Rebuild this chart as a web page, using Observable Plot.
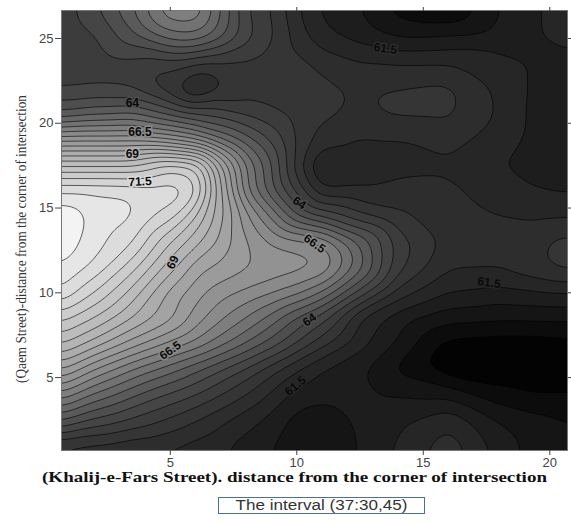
<!DOCTYPE html>
<html><head><meta charset="utf-8">
<script src="https://cdn.jsdelivr.net/npm/d3@7"></script>
<script src="https://cdn.jsdelivr.net/npm/@observablehq/plot@0.6"></script>
<style>
html,body{margin:0;padding:0;background:#fff}
#box{position:absolute;left:218px;top:497px;width:207px;height:17px;box-sizing:border-box;border:1px solid #4a6fa5;
font:14px "Liberation Sans",Arial,sans-serif;color:#333;text-align:center;line-height:15px;overflow:hidden;white-space:nowrap}
#box span{display:inline-block;transform:scaleX(1.22);transform-origin:center}
</style></head><body>
<div id="chart"></div>
<div id="box"><span>The interval (37:30,45)</span></div>
<script>
const xs=[0.7,2,3.5,5,6,7,8,9,10,11,12.5,14,16,18,19.25,20.7];
const ys=[26.65,25,23.5,22,20.5,19,17.5,16,14.5,13,11.5,10,8.5,7,5.5,4,2.5,0.7];
const z=[
[63.2,63.9,65.0,66.5,66.5,65.0,63.5,63.0,62.05,61.4,61.0,60.3,60.0,61.0,61.4,61.75],
[63.1,63.4,64.3,65.2,65.3,64.6,63.7,63.1,62.3,61.65,61.35,61.0,61.1,61.2,61.4,61.75],
[63.1,63.2,63.25,63.15,62.9,62.9,62.9,62.85,62.65,62.4,62.05,62.0,62.0,61.7,61.5,61.2],
[63.5,63.55,63.45,62.6,61.6,62.4,62.8,62.8,62.75,62.6,62.45,62.55,62.65,61.9,61.45,61.2],
[64.6,64.9,65.1,64.4,64.0,63.8,63.4,63.1,62.85,62.6,62.4,62.6,62.6,61.95,61.4,61.15],
[67.4,67.4,67.4,67.0,66.5,65.5,64.7,63.9,62.9,62.3,61.95,61.95,62.2,61.7,61.4,61.2],
[70,70,70,70.9,70.7,68.2,66,64.6,62.7,61.2,61.55,61.8,61.9,61.5,61.3,61.2],
[72.0,72.0,71.95,71.9,71.4,68.6,66,64.6,63.4,62,62.1,62.2,62.1,61.8,61.55,61.45],
[72.95,72.35,72.1,71.3,70,68.7,67.2,66,64.5,63.9,63.1,62.6,62.2,62,61.9,61.95],
[72.9,72.2,71.6,70,69.2,68.4,67.6,67,66.8,66.6,65,63.3,62.35,62.2,62.35,62.7],
[72.5,71.9,70.7,69.2,68.2,67.9,67.6,67.4,67.3,67.1,65.3,63.2,62.05,62.05,62.35,62.7],
[72,71,69.8,68.3,67.7,67.2,66.9,66.6,66.2,65.5,63.8,62.3,61.5,61.3,61.4,61.5],
[70.7,70,69,68.2,67.3,66.6,66,65.3,64.4,63.65,61.9,61.2,60.7,60.6,60.6,60.6],
[69.6,68.8,67.8,66.9,66.4,65.7,65,64.3,63.5,62.7,61.7,60.95,59.8,59.7,59.7,59.8],
[68.1,67,66,65.2,64.6,64,63.4,62.7,62,61.45,61.1,60.35,59.65,59.6,59.6,59.7],
[66.4,65.4,64.6,63.9,63.5,63,62.5,61.9,61.3,61.1,61.2,60.98,60.85,60.2,60,60],
[64.6,63.9,63.4,62.9,62.5,62.1,61.7,61.3,60.8,60.8,61.1,61.4,61.9,60.95,60.7,60.5],
[62.2,62.1,61.95,61.85,61.7,61.55,61.2,61,60.6,60.5,61.05,61.6,62.35,61.35,60.85,60.6]
];
const levels=[];for(let v=59;v<=73.5;v+=0.5)levels.push(v);
const greyStops=[59.5,60,61.5,63,64,66.5,69,71.5,72,72.5];
const greyValues=["#030303","#0c0c0c","#262626","#3c3c3c","#4e4e4e","#8a8a8a","#b4b4b4","#dcdcdc","#e6e6e6","#f3f3f3"];
const labelText=["61.5","64","66.5","69","71.5","64","66.5","69","66.5","64","61.5","61.5"];
const labelX=[13.5,3.5,3.8,3.5,3.8,10.1,10.7,5.1,5,10.5,9.95,17.6];
const labelY=[24.4,21.2,19.45,18.15,16.55,15.3,12.9,11.8,6.6,8.4,4.5,10.6];
const labelAngle=[8,0,0,0,-3,35,35,-65,-35,-35,-40,8];
const labelBg=["#2c2c2c","#4e4e4e","#8a8a8a","#b4b4b4","#dcdcdc","#4e4e4e","#8a8a8a","#b4b4b4","#8a8a8a","#4e4e4e","#262626","#262626"];
const xTicks=[5,10,15,20],yTicks=[5,10,15,20,25];
const points=[];
ys.forEach((y,j)=>xs.forEach((x,i)=>points.push({x,y,v:z[j][i]})));
const labels=labelText.map((t,i)=>({t,x:labelX[i],y:labelY[i],a:labelAngle[i],bg:labelBg[i]}));
const font='"Liberation Sans",Arial,sans-serif';
const plot=Plot.plot({
 width:571,height:490,marginLeft:61,marginRight:4,marginTop:10,marginBottom:40,
 style:{background:"#fff",fontFamily:font},
 x:{domain:[0.7,20.7],label:null},
 y:{domain:[0.7,26.65],label:null},
 color:{type:"linear",domain:greyStops,range:greyValues,clamp:true,interpolate:"rgb"},
 marks:[
  Plot.contour(points,{x:"x",y:"y",fill:"v",thresholds:levels,interpolate:"barycentric",pixelSize:1,blur:8,stroke:"#000",strokeWidth:0.7,strokeOpacity:0.85}),
  Plot.frame({stroke:"#777"}),
  Plot.axisX(xTicks,{anchor:"bottom",tickSize:5,tickPadding:2,fontSize:13,color:"#444",stroke:"#444",label:null}),
  Plot.axisX(xTicks,{anchor:"top",tickSize:4,tickFormat:()=>"",stroke:"#444",label:null}),
  Plot.axisY(yTicks,{anchor:"left",tickSize:6,tickPadding:2,fontSize:13,color:"#444",stroke:"#444",label:null}),
  Plot.axisY(yTicks,{anchor:"right",tickSize:4,tickFormat:()=>"",stroke:"#444",label:null}),
  Plot.text(labels,{x:"x",y:"y",text:"t",rotate:"a",fontSize:12,fontWeight:"bold",fill:"#0a0a0a",stroke:{value:"bg",scale:null},strokeWidth:3}),
  ()=>{
   const ns="http://www.w3.org/2000/svg";
   const g=document.createElementNS(ns,"g");
   const a=document.createElementNS(ns,"text");
   a.textContent="(Khalij-e-Fars Street). distance from the corner of intersection";
   a.setAttribute("x",42);a.setAttribute("y",482);a.setAttribute("text-anchor","start");
   a.setAttribute("textLength",505);a.setAttribute("lengthAdjust","spacingAndGlyphs");
   a.setAttribute("font-family",'"Liberation Serif",serif');a.setAttribute("font-weight","bold");a.setAttribute("font-size","14.5");a.setAttribute("fill","#111");
   const b=document.createElementNS(ns,"text");
   b.textContent="(Qaem Street)-distance from the corner of intersection";
   b.setAttribute("transform","translate(26,383) rotate(-90)");b.setAttribute("text-anchor","start");
   b.setAttribute("textLength",288);b.setAttribute("lengthAdjust","spacingAndGlyphs");
   b.setAttribute("font-family",'"Liberation Serif",serif');b.setAttribute("font-size","14");b.setAttribute("fill","#333");
   g.append(a,b);return g;
  }
 ]
});
document.getElementById("chart").append(plot);
</script>
</body></html>
